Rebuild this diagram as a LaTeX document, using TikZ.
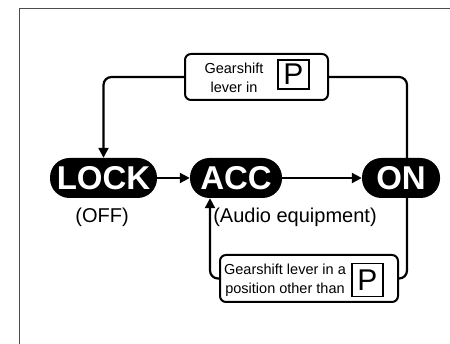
\documentclass[tikz,border=0pt]{standalone}
\usepackage{fontspec}
\setmainfont{Liberation Sans}
\usetikzlibrary{arrows.meta,positioning}
\tikzset{
  keypill/.style={fill=black, text=white, rounded corners=19.5pt, minimum height=40pt, inner sep=0pt, font=\bfseries\fontsize{33}{33}\selectfont},
  condbox/.style={draw=black, rounded corners=6pt, line width=2pt, fill=white, inner sep=0pt},
  condtext/.style={align=center, inner sep=0pt, font=\fontsize{14.5}{18.5}\selectfont},
  pbox/.style={draw=black, line width=1.8pt, inner sep=0pt, font=\fontsize{30}{30}\selectfont},
  keyline/.style={-{Triangle[length=10pt,width=10pt]}, line width=2.2pt},
  loopline/.style={line width=2.2pt, rounded corners=8pt}
}
\begin{document}
\begin{tikzpicture}[x=1pt, y=-1pt, every node/.style={font=\fontsize{20}{20}\selectfont}]
  \useasboundingbox (0,0) rectangle (450,344);
  \draw[black!70, line width=1pt] (19,344) -- (19,9) -- (450,9);

  \node[keypill, minimum width=107pt] (lock) at (103.5,178) {LOCK};
  \node[keypill, minimum width=92pt] (acc) at (236,178) {ACC};
  \node[keypill, minimum width=78pt] (ign) at (401,178) {ON};
  \draw[keyline] (lock.east) -- (acc.west);
  \draw[keyline] (acc.east) -- (ign.west);

  \node (off) at (102,217) {(OFF)};
  \node (audio) at (295,217) {(Audio equipment)};

  % condition for turning back to LOCK
  \node[condbox, minimum width=143pt, minimum height=46pt] (topbox) at (256.5,77) {};
  \node[condtext] (toptext) at (234,78) {Gearshift\\lever in};
  \node[pbox, minimum width=31pt, minimum height=29pt] (topp) at (293.5,74.5) {P};
  \draw[loopline] ([xshift=6pt]ign.north) |- (topbox.east);
  \draw[loopline, keyline] (topbox.west) -| (lock.north);

  % condition for turning back to ACC
  \node[condbox, minimum width=178pt, minimum height=47pt] (botbox) at (309,278.5) {};
  \node[condtext] (bottext) at (285,280.5) {Gearshift lever in a\\position other than};
  \node[pbox, minimum width=31pt, minimum height=33pt] (botp) at (367.5,280) {P};
  \draw[loopline] ([xshift=6pt]ign.south) |- (botbox.east);
  \draw[loopline, keyline] (botbox.west) -| ([xshift=-26pt]acc.south);
\end{tikzpicture}
\end{document}
